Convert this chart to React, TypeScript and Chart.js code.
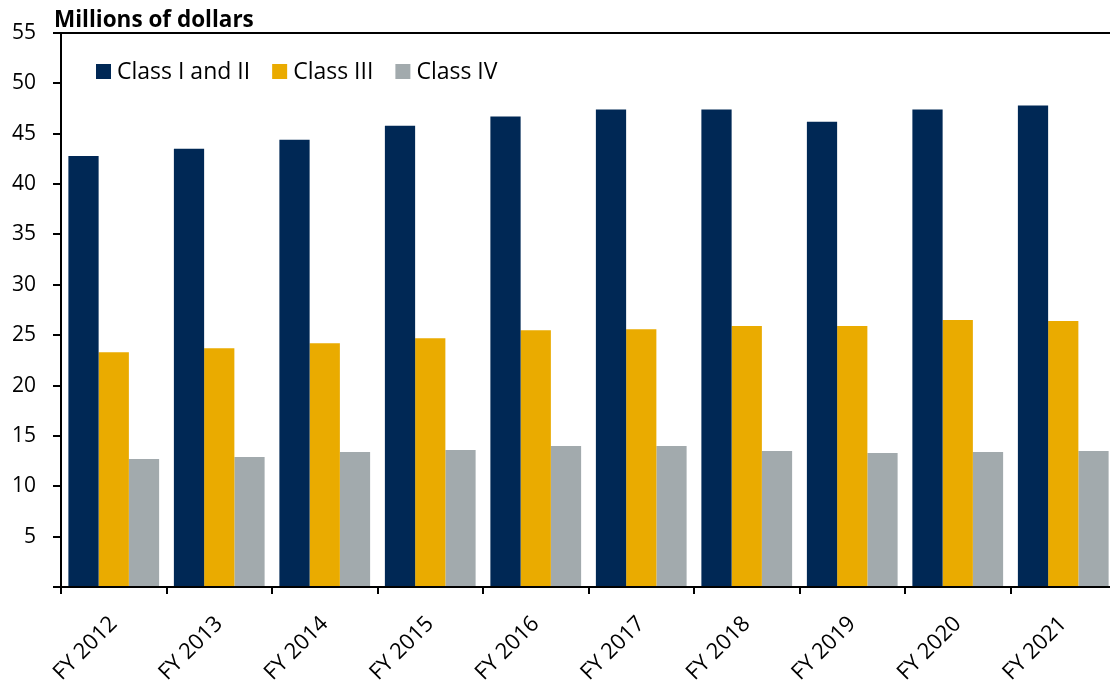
import React, { useEffect, useRef } from "react";
import { Chart, registerables } from "chart.js";

Chart.register(...registerables);

const categories = ["FY 2012", "FY 2013", "FY 2014", "FY 2015", "FY 2016", "FY 2017", "FY 2018", "FY 2019", "FY 2020", "FY 2021"];
const classIandII = [42.8, 43.5, 44.4, 45.8, 46.7, 47.4, 47.4, 46.2, 47.4, 47.8];
const classIII = [23.3, 23.7, 24.2, 24.7, 25.5, 25.6, 25.9, 25.9, 26.5, 26.4];
const classIV = [12.7, 12.9, 13.4, 13.6, 14.0, 14.0, 13.5, 13.3, 13.4, 13.5];
const seriesLabels = ["Class I and II", "Class III", "Class IV"];
const seriesColors = ["#002855", "#EAAB00", "#A2AAAD"];
const yTitle = "Millions of dollars";

const FONT = "'Open Sans', 'Noto Sans', sans-serif";

export default function App() {
  const ref = useRef<HTMLCanvasElement | null>(null);
  useEffect(() => {
    document.body.style.overflow = "hidden";
    const titlePlugin = {
      id: "ytitle",
      afterDraw(chart: any) {
        const { ctx, chartArea } = chart;
        ctx.save();
        ctx.font = `bold 22.5px ${FONT}`;
        ctx.fillStyle = "#000";
        ctx.textBaseline = "alphabetic";
        ctx.textAlign = "left";
        ctx.fillText(yTitle, chartArea.left - 7, chartArea.top - 6);
        ctx.restore();
      },
    };
    const legendPlugin = {
      id: "inlegend",
      afterDraw(chart: any) {
        const { ctx, chartArea } = chart;
        ctx.save();
        ctx.font = `23px ${FONT}`;
        ctx.textBaseline = "middle";
        ctx.textAlign = "left";
        let x = chartArea.left + 35;
        const y = chartArea.top + 31;
        chart.data.datasets.forEach((ds: any) => {
          ctx.fillStyle = ds.backgroundColor;
          ctx.fillRect(x, y, 15, 15);
          ctx.fillStyle = "#000";
          ctx.fillText(ds.label, x + 21, y + 8);
          x += 21 + ctx.measureText(ds.label).width + 22;
        });
        ctx.restore();
      },
    };
    const chart = new Chart(ref.current!, {
      type: "bar",
      data: {
        labels: categories,
        datasets: [
          { label: seriesLabels[0], data: classIandII, backgroundColor: seriesColors[0] },
          { label: seriesLabels[1], data: classIII, backgroundColor: seriesColors[1] },
          { label: seriesLabels[2], data: classIV, backgroundColor: seriesColors[2] },
        ],
      },
      options: {
        animation: false,
        responsive: false,
        maintainAspectRatio: false,
        layout: { padding: { top: 33, left: 0, right: 4, bottom: 0 } },
        datasets: { bar: { categoryPercentage: 0.86, barPercentage: 1.0 } },
        plugins: {
          legend: { display: false },
          tooltip: { enabled: false },
        },
        scales: {
          x: {
            offset: true,
            grid: {
              offset: true,
              drawOnChartArea: false,
              drawTicks: true,
              tickLength: 7,
              color: "#000",
              lineWidth: 2,
            },
            border: { color: "#000", width: 2 },
            ticks: {
              color: "#000",
              font: { family: FONT, size: 22 },
              maxRotation: 45,
              minRotation: 45,
              padding: 17,
            },
            afterFit(axis: any) {
              axis.height = 97;
            },
          },
          y: {
            min: 0,
            max: 55,
            border: { color: "#000", width: 2 },
            grid: {
              color: (c: any) => (c.tick && c.tick.value === 55 ? "#000" : "rgba(0,0,0,0)"),
              tickColor: "#000",
              tickLength: 8,
              lineWidth: 2,
            },
            ticks: {
              stepSize: 5,
              color: "#000",
              font: { family: FONT, size: 21 },
              padding: 17,
              callback: (v: any) => (v === 0 ? "" : String(v)),
            },
            afterFit(axis: any) {
              axis.width = 61;
            },
          },
        },
      },
      plugins: [titlePlugin, legendPlugin],
    });
    return () => chart.destroy();
  }, []);
  return (
    <div style={{ position: "absolute", left: 0, top: 0, width: 1110, height: 684, overflow: "hidden", background: "#fff" }}>
      <canvas ref={ref} width={1120} height={684} style={{ display: "block" }} />
    </div>
  );
}
